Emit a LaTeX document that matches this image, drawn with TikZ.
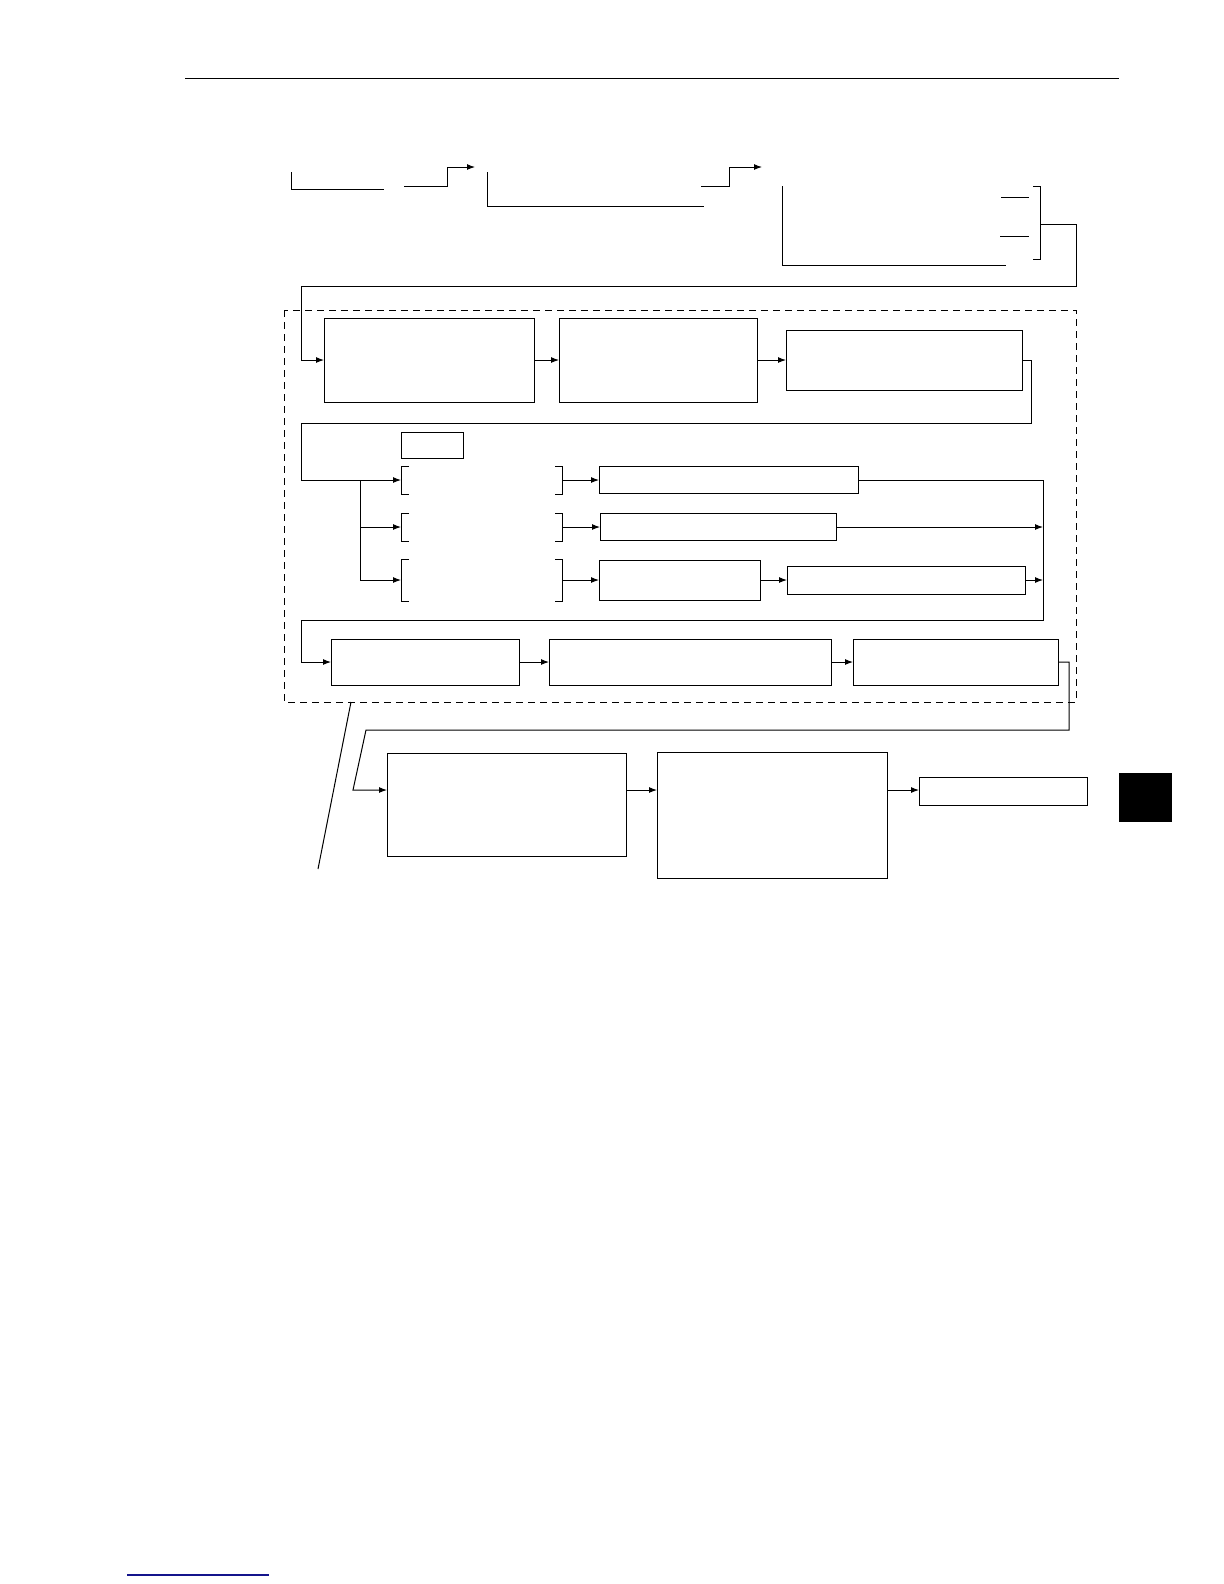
\documentclass[tikz,border=0pt]{standalone}
\usetikzlibrary{arrows.meta,calc,positioning}
\definecolor{linkblue}{RGB}{20,20,140}
\tikzset{
  blk/.style={draw, rectangle, inner sep=0pt, outer sep=0pt},
  brk/.style={rectangle, inner sep=0pt, outer sep=0pt},
  sz/.style 2 args={minimum width=#1bp, minimum height=#2bp},
  arr/.style={-{Latex[length=4bp,width=3bp]}},
}
\begin{document}
\begin{tikzpicture}[x=0.5bp, y=-0.5bp, line width=0.5bp]
  \useasboundingbox (0,0) rectangle (1224,1584);

  % page rule, thumb mark, footer link
  \draw (185,78) -- (1119,78);
  \fill (1119,773) rectangle (1172,822);
  \draw[linkblue, line width=0.75bp] (127,1575) -- (269,1575);

  % top row
  \coordinate (s1a) at (404,186);
  \coordinate (s1m) at (447,167);
  \coordinate (s1b) at (475,167);
  \coordinate (s2a) at (701,186);
  \coordinate (s2m) at (729,167);
  \coordinate (s2b) at (762,167);
  \draw (291,172) |- (384,189);
  \draw[arr] (s1a) -| (s1m) -- (s1b);
  \draw (487,172) |- (704,206);
  \draw[arr] (s2a) -| (s2m) -- (s2b);
  \draw (782,186) |- (1006,265);
  \draw (1001,197) -- (1029,197);
  \draw (1000,236) -- (1029,236);
  \draw (1033,186) -| (1040,259) -- (1033,259);

  % dashed group
  \draw[dash pattern=on 3.5bp off 2.5bp] (284,310) rectangle (1076,702);

  \draw (429,360) node[blk, sz={105}{42}] (a1) {};
  \draw (658,360) node[blk, sz={99}{42}] (a2) {};
  \draw (904,360) node[blk, sz={118}{30}] (a3) {};
  \draw (432,445) node[blk, sz={31}{13}] (s1) {};
  \draw (481.5,480) node[brk, sz={80.5}{14}] (b1) {};
  \draw (481.5,527) node[brk, sz={80.5}{14}] (b2) {};
  \draw (481.5,580) node[brk, sz={80.5}{21}] (b3) {};
  \draw (728.5,480) node[blk, sz={129.5}{13.5}] (e1) {};
  \draw (718,527) node[blk, sz={118}{13.5}] (e2) {};
  \draw (679.5,580) node[blk, sz={80.5}{20}] (e3) {};
  \draw (906,580) node[blk, sz={119}{14}] (e4) {};
  \draw (425,662) node[blk, sz={94}{23}] (c1) {};
  \draw (690,662) node[blk, sz={141}{23}] (c2) {};
  \draw (955.5,662) node[blk, sz={102.5}{23}] (c3) {};

  % lower row
  \draw (506.5,804.5) node[blk, sz={119.5}{51.5}] (d1) {};
  \draw (772,815) node[blk, sz={115}{63}] (d2) {};
  \draw (1003,791) node[blk, sz={84}{14}] (d3) {};

  \foreach \b in {b1,b2,b3}{
    \draw ([xshift=4bp]\b.north west) -| (\b.south west) -- ++(8,0);
    \draw ([xshift=-3.5bp]\b.north east) -| (\b.south east) -- ++(-7,0);
  }

  \coordinate (bo) at (1040,224);
  \coordinate (rt) at (1076,286);
  \coordinate (lt) at (301,286);
  \coordinate (r1) at (1031,423);
  \coordinate (l1) at (301,423);
  \coordinate (br) at (360,480);
  \coordinate (cb) at (1043,620);
  \coordinate (lb) at (301,620);
  \coordinate (dn1) at (1069,730);
  \coordinate (dn2) at (366,730);
  \coordinate (dn3) at (353,790);
  \coordinate (ld1) at (351,702);
  \coordinate (ld2) at (318,869);

  \draw[arr] (bo) -| (rt) -- (lt) |- (a1.west);
  \draw[arr] (a3.east) -| (r1) -- (l1) |- (b1.west);
  \draw[arr] (br) |- (b2.west);
  \draw[arr] (br) |- (b3.west);
  \path[arr]
    (a1) edge (a2)
    (a2) edge (a3)
    (b1) edge (e1)
    (b2) edge (e2)
    (b3) edge (e3)
    (e3) edge (e4)
    (c1) edge (c2)
    (c2) edge (c3);
  \draw[arr] (e1.east) -| (cb) -- (lb) |- (c1.west);
  \draw[arr] (e2.east) -- (e2.east -| cb);
  \draw[arr] (e4.east) -- (e4.east -| cb);
  \draw[arr] (c3.east) -| (dn1) -- (dn2) -- (dn3) -- (d1.west |- dn3);
  \draw[arr] (d1.east |- dn3) -- (d2.west |- dn3);
  \draw[arr] (d2.east |- dn3) -- (d3.west |- dn3);
  \draw (ld1) -- (ld2);
\end{tikzpicture}
\end{document}
